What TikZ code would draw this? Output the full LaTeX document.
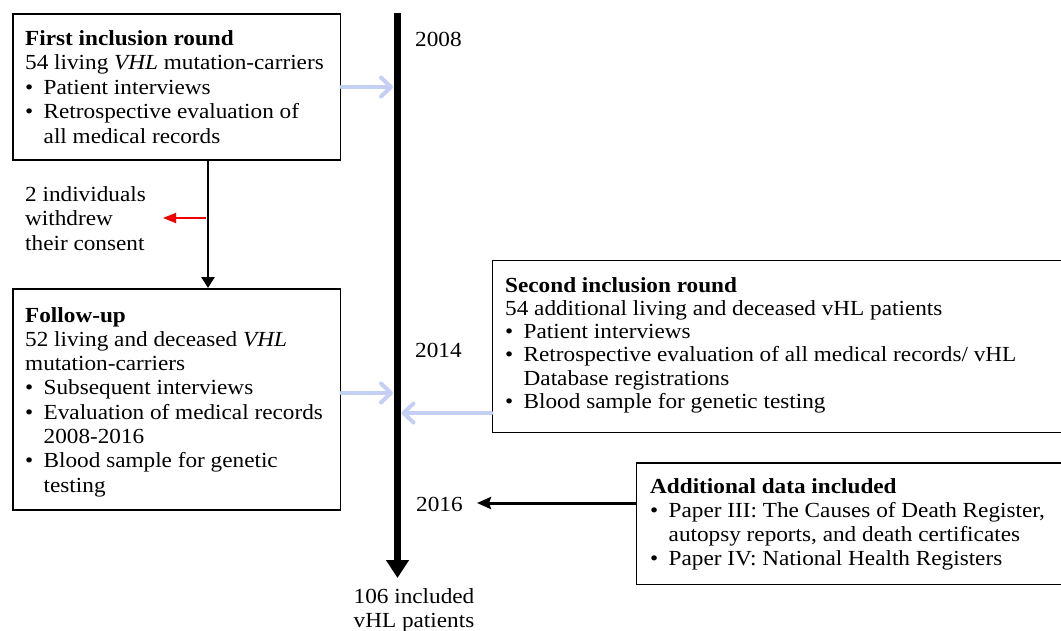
\documentclass[tikz,border=0pt]{standalone}
\usepackage{fontspec}
\setmainfont{Liberation Serif}[FakeStretch=1.08]
\usetikzlibrary{arrows.meta,calc}
\definecolor{lblue}{RGB}{196,207,244}
\definecolor{arrred}{RGB}{240,0,0}
\newcommand{\bitem}[1]{\makebox[18.5pt][l]{•}#1}
\newcommand{\bcont}[1]{\hspace*{18.5pt}#1}
\newcommand{\txtsize}[1]{\fontsize{21.5pt}{#1}\selectfont}
\tikzset{
  framebox/.style={draw=black, line width=1.9pt, rectangle, inner sep=0pt, anchor=north west},
  txt/.style={inner sep=0pt, anchor=base west},
  bluearr/.style={draw=lblue, line width=4pt, line cap=round, -{Straight Barb[round,length=10pt,width=19pt]}},
  downarr/.style={draw=black, line width=2.6pt, -{Triangle[length=11pt,width=13pt]}},
  redarr/.style={draw=arrred, line width=1.8pt, -{Triangle[length=13pt,width=10pt]}},
  leftarr/.style={draw=black, line width=3pt, -{Stealth[length=14pt,width=12pt,inset=2pt]}},
  timeline/.style={draw=black, line width=7pt, -{Triangle[length=18pt,width=22pt]}}
}
\begin{document}
\begin{tikzpicture}[x=1pt,y=-1pt]
\useasboundingbox (0,0) rectangle (1061,630);

% boxes
\node[framebox, minimum width=327.5pt, minimum height=146pt] (b1) at (12,13) {};
\node[framebox, minimum width=327.5pt, minimum height=221pt] (b2) at (12,288) {};
\node[framebox, minimum width=572pt, minimum height=172pt] (b3) at (491.5,259.5) {};
\node[framebox, minimum width=428pt, minimum height=121.5pt] (b4) at (635.5,462) {};

% box texts
\node[txt] (t1) at (25,45) {\parbox[t]{320pt}{\txtsize{24.5pt}\raggedright
\textbf{First inclusion round}\\
54 living \textit{VHL} mutation-carriers\\
\bitem{Patient interviews}\\
\bitem{Retrospective evaluation of}\\
\bcont{all medical records}}};

\node[txt] (t2) at (25,322) {\parbox[t]{320pt}{\txtsize{24.3pt}\raggedright
\textbf{Follow-up}\\
52 living and deceased \textit{VHL}\\
mutation-carriers\\
\bitem{Subsequent interviews}\\
\bitem{Evaluation of medical records}\\
\bcont{2008-2016}\\
\bitem{Blood sample for genetic}\\
\bcont{testing}}};

\node[txt] (t3) at (505,292) {\parbox[t]{560pt}{\txtsize{23.3pt}\raggedright
\textbf{Second inclusion round}\\
54 additional living and deceased vHL patients\\
\bitem{Patient interviews}\\
\bitem{Retrospective evaluation of all medical records/ vHL}\\
\bcont{Database registrations}\\
\bitem{Blood sample for genetic testing}}};

\node[txt] (t4) at (650,493) {\parbox[t]{420pt}{\txtsize{24pt}\raggedright
\textbf{Additional data included}\\
\bitem{Paper III: The Causes of Death Register,}\\
\bcont{autopsy reports, and death certificates}\\
\bitem{Paper IV: National Health Registers}}};

\node[txt] (wd) at (25,201) {\parbox[t]{160pt}{\txtsize{24.5pt}\raggedright
2 individuals\\
withdrew\\
their consent}};

% years
\node[txt, font=\txtsize{24pt}] (y08) at (415,46) {2008};
\node[txt, font=\txtsize{24pt}] (y14) at (415,357) {2014};
\node[txt, font=\txtsize{24pt}] (y16) at (416,511) {2016};
\node[inner sep=0pt, anchor=base] (fin) at (414,603) {\parbox[t]{160pt}{\txtsize{24pt}\centering
106 included\\
vHL patients}};

% coordinates
\coordinate (ttop) at (397.5,12.5);
\coordinate (tbot) at (397.5,578);
\coordinate (tip08) at (393,87);
\coordinate (tip14a) at (393,393);
\coordinate (tip14b) at (401.5,413);
\coordinate (tip16) at (477,503);
\coordinate (dnx) at (208,0);
\coordinate (rs) at (206,218);
\coordinate (re) at (163,218);

% connectors
\draw[bluearr] (b1.east |- tip08) -- (tip08);
\draw[bluearr] (b2.east |- tip14a) -- (tip14a);
\draw[bluearr] (b3.west |- tip14b) -- (tip14b);
\draw[timeline] (ttop) -- (tbot);
\draw[downarr] (b1.south -| dnx) -- (b2.north -| dnx);
\draw[redarr] (rs) -- (re);
\draw[leftarr] (b4.west |- tip16) -- (tip16);
\end{tikzpicture}
\end{document}
